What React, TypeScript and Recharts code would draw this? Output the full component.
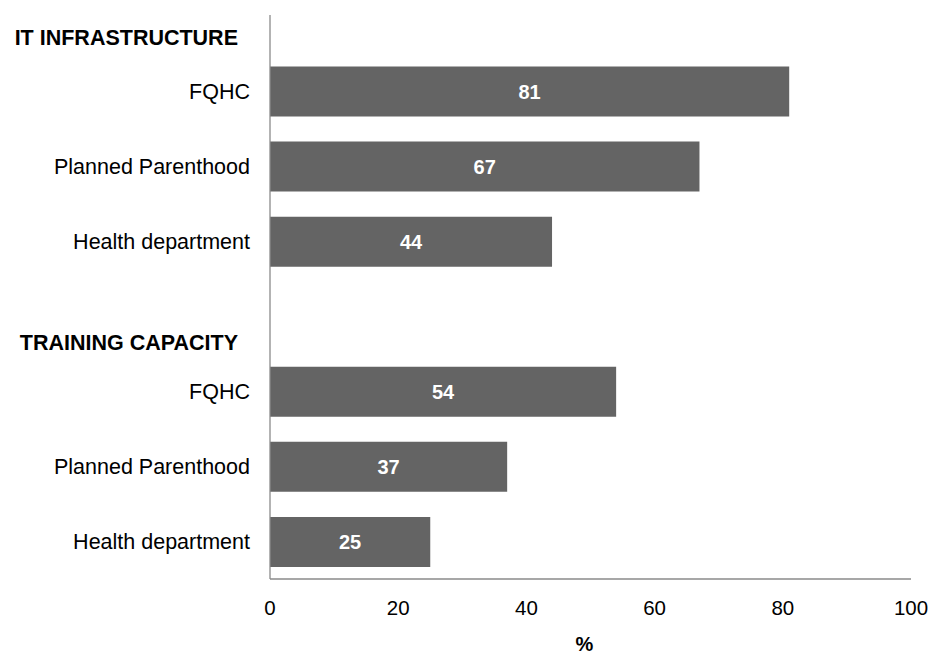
import React from 'react';
import { BarChart, Bar, XAxis, YAxis, LabelList, Label } from 'recharts';

const categories = ['FQHC', 'Planned Parenthood', 'Health department', '', 'FQHC', 'Planned Parenthood', 'Health department'];
const values: (number | null)[] = [81, 67, 44, null, 54, 37, 25];
const groupHeaders = ['IT INFRASTRUCTURE', 'TRAINING CAPACITY'];
const headerRowIndex = [0, 4];
const xTicks = [0, 20, 40, 60, 80, 100];

const data = categories.map((c, i) => ({ id: `r${i}`, name: c, value: values[i] }));

const FONT = '"Liberation Sans", Arial, sans-serif';
const headerOffsets = [-54, -49];

const CategoryTick = (props: any) => {
  const { x, y, payload, index } = props;
  const row = data.find((d) => d.id === payload.value);
  const hIdx = headerRowIndex.indexOf(index);
  return (
    <g>
      <text x={x} y={y} dy="0.36em" textAnchor="end" fontSize={21.5} fill="#000" fontFamily={FONT}>
        {row ? row.name : ''}
      </text>
      {hIdx >= 0 && (
        <text x={x - 12} y={y + headerOffsets[hIdx]} dy="0.36em" textAnchor="end" fontSize={21.5} fontWeight="bold" fill="#000" fontFamily={FONT}>
          {groupHeaders[hIdx]}
        </text>
      )}
    </g>
  );
};

export default function App() {
  return (
    <div style={{ position: 'absolute', left: 0, top: 0, width: 930, height: 654, background: '#fff' }}>
      <BarChart
        width={930}
        height={654}
        data={data}
        layout="vertical"
        margin={{ top: 15, right: 19, bottom: 25, left: 0 }}
      >
        <XAxis
          type="number"
          domain={[0, 100]}
          ticks={xTicks}
          tickLine={false}
          axisLine={{ stroke: '#8a8a8a', strokeWidth: 1.3 }}
          tick={{ fontSize: 20.5, fill: '#000', fontFamily: FONT }}
          tickMargin={15}
          height={50}
          interval={0}
        >
          <Label value="%" position="insideBottom" offset={-22} dx={-6} style={{ fontSize: 20, fontWeight: 'bold', fill: '#000', fontFamily: FONT }} />
        </XAxis>
        <YAxis
          type="category"
          dataKey="id"
          width={270}
          padding={{ top: 38.5, bottom: 0 }}
          tickLine={false}
          axisLine={{ stroke: '#8a8a8a', strokeWidth: 1.3 }}
          tick={<CategoryTick />}
          tickMargin={14}
          interval={0}
        />
        <Bar dataKey="value" fill="#646464" barSize={50} isAnimationActive={false}>
          <LabelList dataKey="value" position="center" fill="#fff" fontSize={20} fontWeight="bold" fontFamily={FONT} />
        </Bar>
      </BarChart>
    </div>
  );
}
